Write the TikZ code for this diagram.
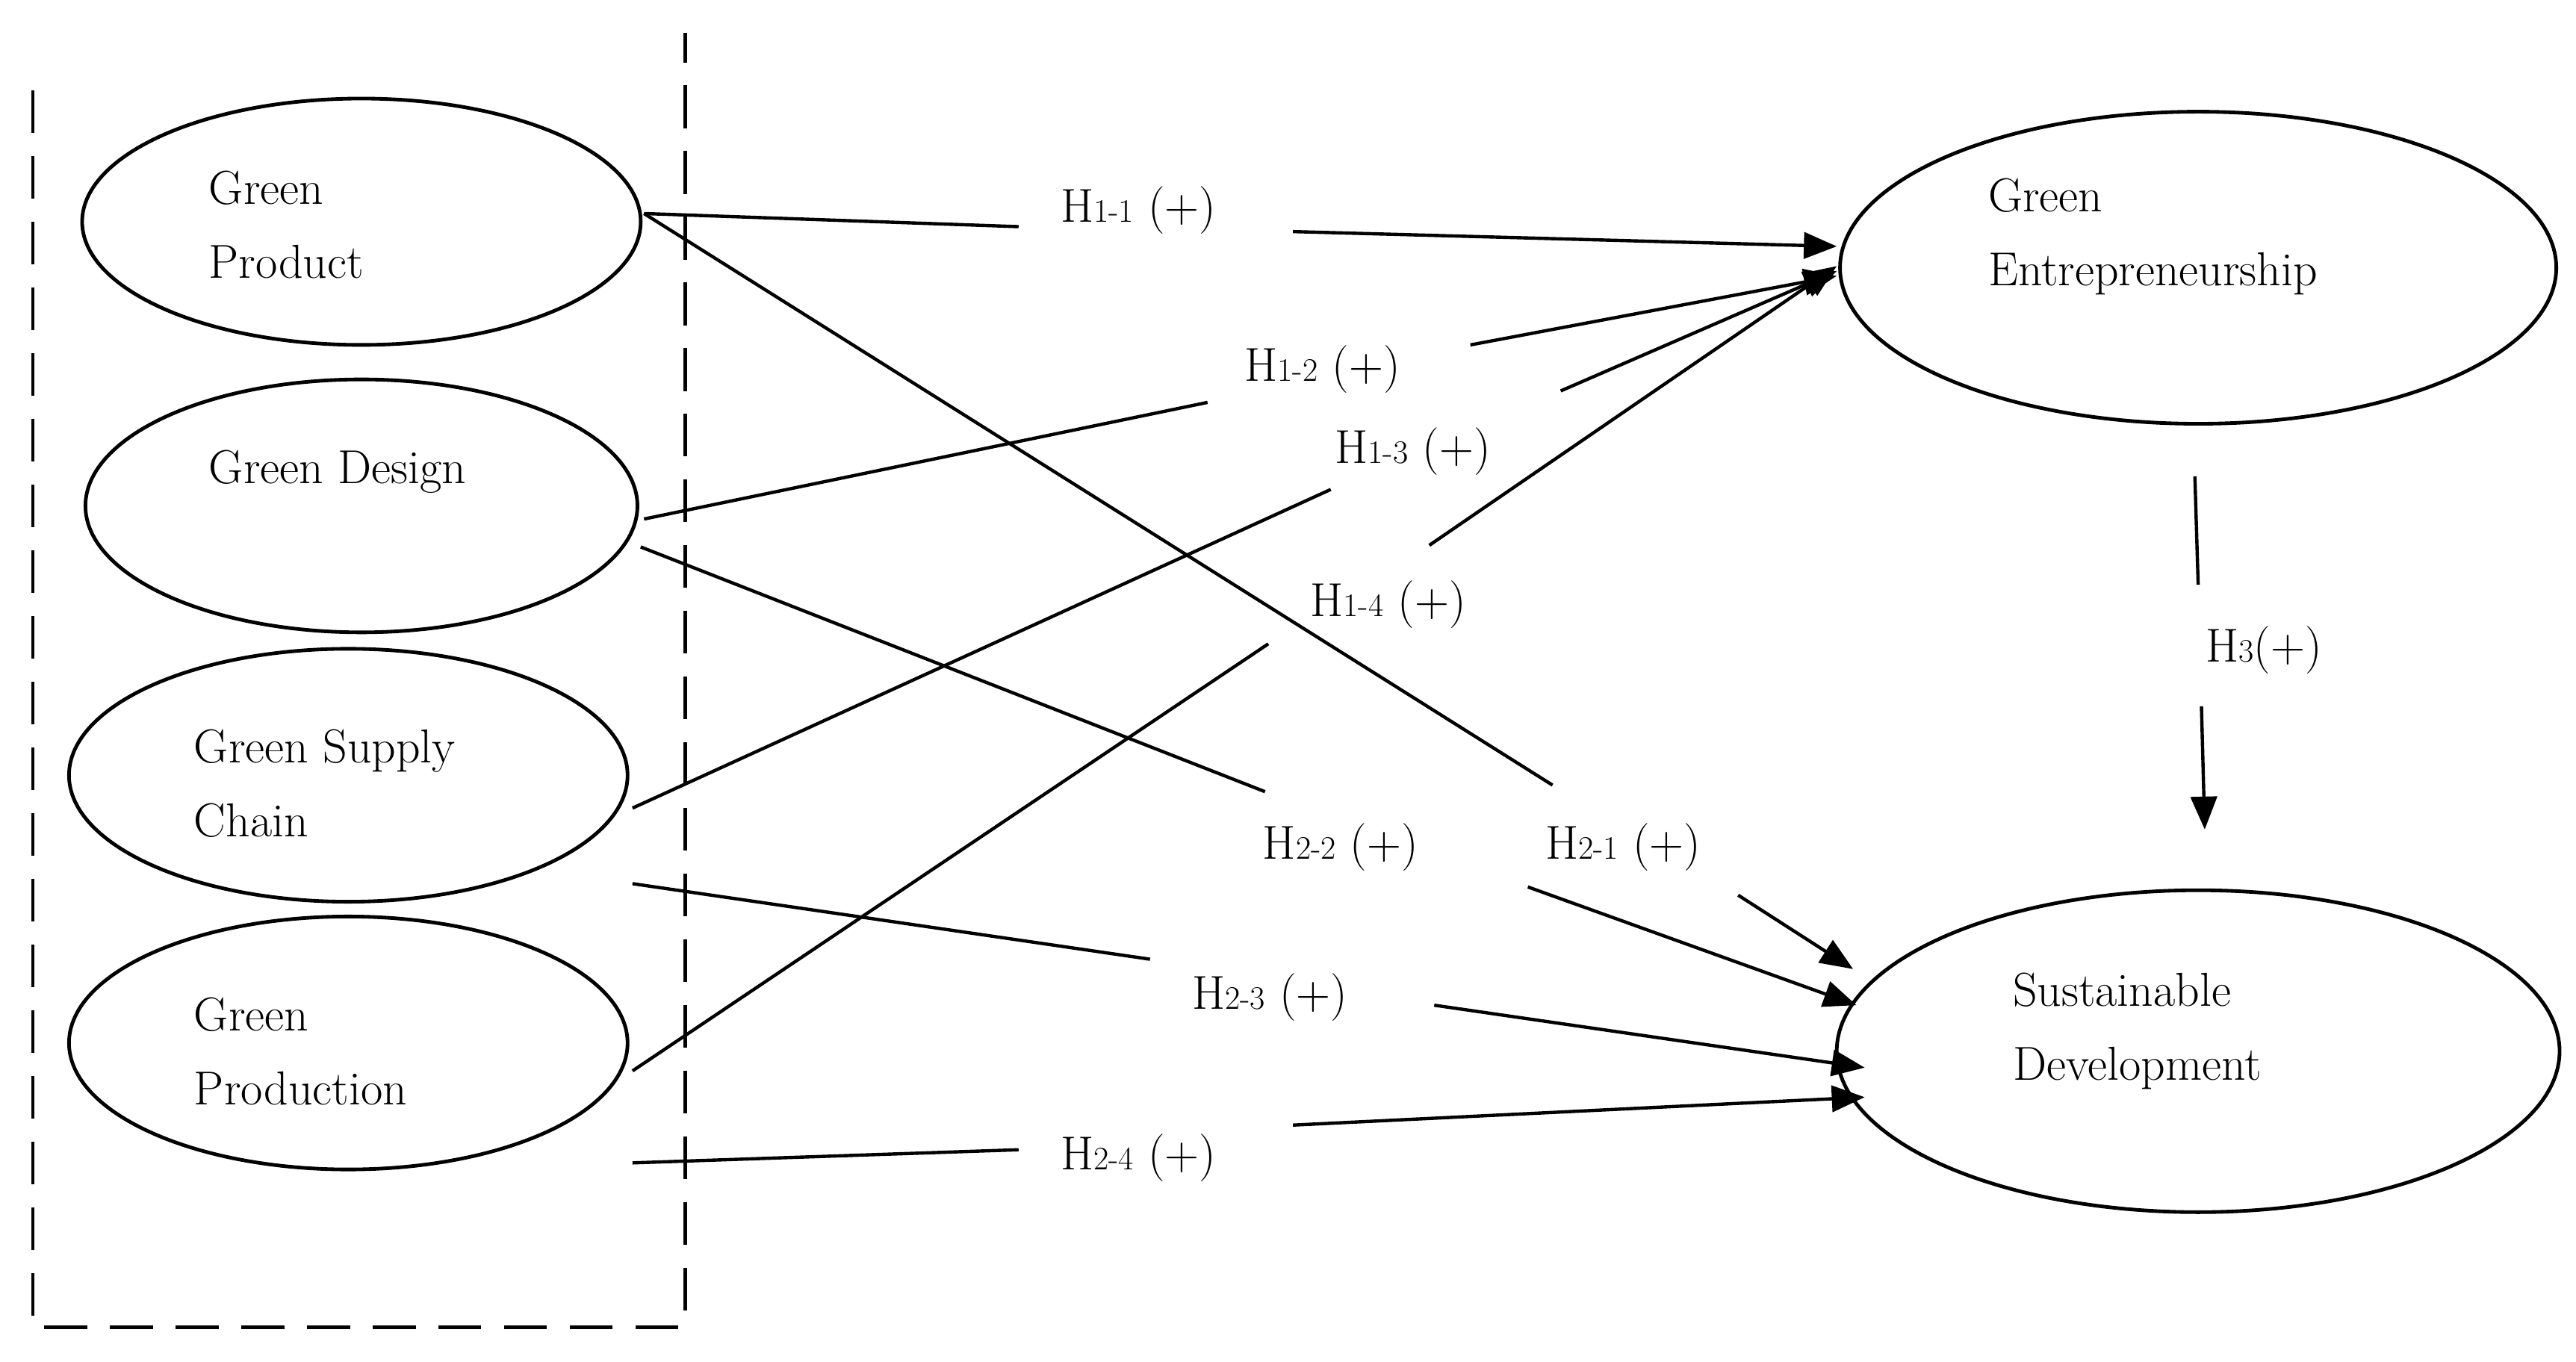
\documentclass[tikz,border=0pt]{standalone}
\usetikzlibrary{shapes.geometric,arrows.meta}
\begin{document}
\begin{tikzpicture}[x=1pt,y=-1pt,
  lab/.style={font=\fontsize{29}{34}\selectfont,inner sep=0pt},
  txt/.style={font=\fontsize{29}{45}\selectfont,align=left,anchor=west,inner sep=0pt},
  ln/.style={line width=2pt},
  ar/.style={line width=2pt,-{Triangle[length=20pt,width=16pt]}}]
\useasboundingbox (0,0) rectangle (1568,829);
\draw[line width=2.2pt,dash pattern=on 26pt off 14pt] (20,55) -- (20,808) -- (417,808) -- (417,20);
\draw[line width=2.2pt] (220,135) ellipse (170 and 75);
\draw[line width=2.2pt] (220,308) ellipse (168 and 77);
\draw[line width=2.2pt] (212,472) ellipse (170 and 77);
\draw[line width=2.2pt] (212,635) ellipse (170 and 77);
\draw[line width=2.2pt] (1338,163) ellipse (218 and 95);
\draw[line width=2.2pt] (1338,640) ellipse (220 and 98);
\node[txt] (gp) at (127,137) {Green\\Product};
\node[txt] (gd) at (127,287) {Green Design};
\node[txt] (gs) at (118,477) {Green Supply\\Chain};
\node[txt] (gr) at (118,640) {Green\\Production};
\node[txt] (ge) at (1210,144) {Green\\Entrepreneurship};
\node[txt] (sd) at (1225,628) {Sustainable\\Development};
\newcommand{\hy}[1]{H{\fontsize{20}{24}\selectfont #1}}
\node[lab] (h11) at (693,128) {\hy{1-1} (+)};
\node[lab] (h12) at (805,225) {\hy{1-2} (+)};
\node[lab] (h13) at (860,275) {\hy{1-3} (+)};
\node[lab] (h14) at (845,368) {\hy{1-4} (+)};
\node[lab] (h21) at (988,516) {\hy{2-1} (+)};
\node[lab] (h22) at (816,516) {\hy{2-2} (+)};
\node[lab] (h23) at (773,607) {\hy{2-3} (+)};
\node[lab] (h24) at (693,705) {\hy{2-4} (+)};
\node[lab] (h3) at (1378,396) {H{\fontsize{20}{24}\selectfont 3}(+)};
\foreach \n/\a/\b/\c/\d in {a/392/130/620/138, b/787/141/1118/150,
  c/392/130/945/478, d/1058/545/1128/590,
  e/392/316/735/245, f/895/210/1118/168,
  g/385/492/810/298, h/950/238/1118/165,
  i/385/652/772/392, j/870/332/1118/162,
  k/390/333/770/482, l/930/540/1130/612,
  m/385/538/700/584, n/873/612/1135/650,
  o/385/708/620/700, p/787/685/1135/668,
  q/1336/290/1338/356, r/1340/430/1342/505}
  {\coordinate (s\n) at (\a,\b); \coordinate (t\n) at (\c,\d);}
\foreach \n in {a,c,e,g,i,k,m,o,q} \draw[ln] (s\n) -- (t\n);
\foreach \n in {b,d,f,h,j,l,n,p,r} \draw[ar] (s\n) -- (t\n);
\end{tikzpicture}
\end{document}
